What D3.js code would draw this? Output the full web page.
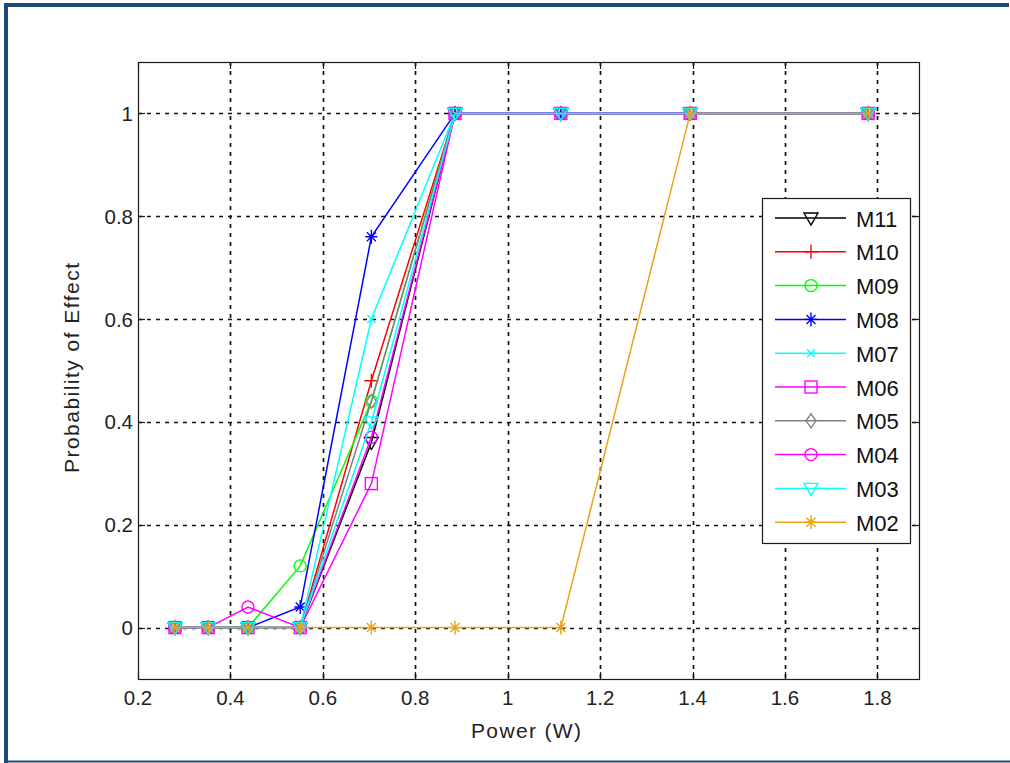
<!DOCTYPE html>
<html>
<head>
<meta charset="utf-8">
<script src="https://cdn.jsdelivr.net/npm/d3@7"></script>
<style>
  html, body { margin: 0; padding: 0; background: #fff; }
  svg { display: block; font-family: "Liberation Sans", Arial, sans-serif; }
</style>
</head>
<body>
<div id="chart"></div>
<script>
// power levels (W)
const power = [0.28, 0.352, 0.438, 0.551, 0.705, 0.886, 1.115, 1.395, 1.78];

const names = ["M11", "M10", "M09", "M08", "M07", "M06", "M05", "M04", "M03", "M02"];
const m11 = [0, 0, 0, 0, 0.36, 1, 1, 1, 1];
const m10 = [0, 0, 0, 0, 0.48, 1, 1, 1, 1];
const m09 = [0, 0, 0, 0.12, 0.44, 1, 1, 1, 1];
const m08 = [0, 0, 0, 0.04, 0.76, 1, 1, 1, 1];
const m07 = [0, 0, 0, 0, 0.6, 1, 1, 1, 1];
const m06 = [0, 0, 0, 0, 0.28, 1, 1, 1, 1];
const m05 = [0, 0, 0, 0, 0.44, 1, 1, 1, 1];
const m04 = [0, 0, 0.04, 0, 0.37, 1, 1, 1, 1];
const m03 = [0, 0, 0, 0, 0.4, 1, 1, 1, 1];
const m02 = [0, 0, 0, 0, 0, 0, 0, 1, 1];
const values = [m11, m10, m09, m08, m07, m06, m05, m04, m03, m02];

const colors = ["#000000", "#ff0000", "#00ff00", "#0000ff", "#00ffff", "#ff00ff", "#808080", "#ff00ff", "#00ffff", "#e8a317"];
const markers = ["tri", "plus", "circle", "star", "x", "square", "diamond", "circle", "tri", "star"];

const xTicks = [0.2, 0.4, 0.6, 0.8, 1, 1.2, 1.4, 1.6, 1.8];
const yTicks = [0, 0.2, 0.4, 0.6, 0.8, 1];

const width = 1010, height = 763;
const svg = d3.select("#chart").append("svg")
  .attr("width", width)
  .attr("height", height);

// outer frame
svg.append("rect").attr("x", 0).attr("y", 0).attr("width", width).attr("height", height).attr("fill", "#fff");
svg.append("line").attr("x1", 4).attr("x2", 1009).attr("y1", 5).attr("y2", 5)
  .attr("stroke", "#1f497d").attr("stroke-width", 4);
svg.append("line").attr("x1", 6).attr("x2", 6).attr("y1", 3).attr("y2", 763)
  .attr("stroke", "#1f497d").attr("stroke-width", 4);
svg.append("line").attr("x1", 4).attr("x2", 1010).attr("y1", 761.5).attr("y2", 761.5)
  .attr("stroke", "#1f497d").attr("stroke-width", 2);

const pLeft = 138, pRight = 919, pTop = 62, pBottom = 679;

const x = d3.scaleLinear().domain([0.2, 1.89]).range([pLeft, pRight]);
const y = d3.scaleLinear().domain([-0.1, 1.1]).range([pBottom, pTop]);

// grid
const grid = svg.append("g");
grid.selectAll(".gx").data(xTicks.slice(1)).enter().append("line")
  .attr("x1", d => Math.round(x(d)) + 0.5).attr("x2", d => Math.round(x(d)) + 0.5)
  .attr("y1", pTop).attr("y2", pBottom)
  .attr("stroke", "#111").attr("stroke-width", 1.7).attr("stroke-dasharray", "4,5");
grid.selectAll(".gy").data(yTicks).enter().append("line")
  .attr("y1", d => Math.round(y(d)) + 0.5).attr("y2", d => Math.round(y(d)) + 0.5)
  .attr("x1", pLeft).attr("x2", pRight)
  .attr("stroke", "#111").attr("stroke-width", 1.7).attr("stroke-dasharray", "4,5");

// axes box and ticks
const axes = svg.append("g").attr("stroke", "#1a1a1a").attr("stroke-width", 1.2);
axes.append("rect").attr("x", pLeft + 0.5).attr("y", pTop + 0.5)
  .attr("width", pRight - pLeft).attr("height", pBottom - pTop).attr("fill", "none");
xTicks.forEach(t => {
  const px = Math.round(x(t)) + 0.5;
  axes.append("line").attr("x1", px).attr("x2", px).attr("y1", pBottom).attr("y2", pBottom - 7);
  axes.append("line").attr("x1", px).attr("x2", px).attr("y1", pTop).attr("y2", pTop + 7);
});
yTicks.forEach(t => {
  const py = Math.round(y(t)) + 0.5;
  axes.append("line").attr("y1", py).attr("y2", py).attr("x1", pLeft).attr("x2", pLeft + 7);
  axes.append("line").attr("y1", py).attr("y2", py).attr("x1", pRight).attr("x2", pRight - 7);
});

svg.append("g").selectAll("text").data(xTicks).enter().append("text")
  .attr("x", d => x(d)).attr("y", 705)
  .attr("text-anchor", "middle").attr("font-size", 20.5).attr("fill", "#222")
  .text(d => d3.format("")(d));
svg.append("g").selectAll("text").data(yTicks).enter().append("text")
  .attr("x", 133).attr("y", d => y(d) + 7.5)
  .attr("text-anchor", "end").attr("font-size", 20.5).attr("fill", "#222")
  .text(d => d3.format("")(d));

svg.append("text").attr("x", 526).attr("y", 738)
  .attr("text-anchor", "middle").attr("font-size", 21).attr("fill", "#222")
  .attr("textLength", 110).attr("lengthAdjust", "spacing")
  .text("Power (W)");
svg.append("text").attr("transform", "translate(79,368) rotate(-90)")
  .attr("text-anchor", "middle").attr("font-size", 21).attr("fill", "#222")
  .attr("textLength", 210).attr("lengthAdjust", "spacing")
  .text("Probability of Effect");

// marker drawing
function drawMarker(g, type, color) {
  const s = g.append("g").attr("fill", "none").attr("stroke", color).attr("stroke-width", 1.4);
  switch (type) {
    case "tri":
      s.append("path").attr("d", "M-7,-5L7,-5L0,7Z");
      break;
    case "plus":
      s.append("path").attr("d", "M-7,0L7,0M0,-7L0,7");
      break;
    case "circle":
      s.append("circle").attr("r", 6);
      break;
    case "star":
      s.append("path").attr("d", "M-6,0L6,0M0,-7L0,7M-4.5,-4.5L4.5,4.5M-4.5,4.5L4.5,-4.5");
      break;
    case "x":
      s.append("path").attr("d", "M-4,-4L4,4M-4,4L4,-4");
      break;
    case "square":
      s.append("rect").attr("x", -6).attr("y", -6).attr("width", 12).attr("height", 12);
      break;
    case "diamond":
      s.append("path").attr("d", "M0,-7L5,0L0,7L-5,0Z");
      break;
  }
}

// series
const line = d3.line().x(d => x(d[0])).y(d => y(d[1]));
const plot = svg.append("g");
names.forEach((name, i) => {
  const pts = power.map((p, j) => [p, values[i][j]]);
  const g = plot.append("g");
  g.append("path").datum(pts).attr("d", line)
    .attr("fill", "none").attr("stroke", colors[i]).attr("stroke-width", 1.5);
  pts.forEach(p => {
    const mg = g.append("g").attr("transform", `translate(${x(p[0])},${y(p[1])})`);
    drawMarker(mg, markers[i], colors[i]);
  });
});

// legend
const lg = svg.append("g");
lg.append("rect").attr("x", 762.5).attr("y", 198.5).attr("width", 148).attr("height", 345)
  .attr("fill", "#fff").attr("stroke", "#1a1a1a").attr("stroke-width", 1.2);
names.forEach((name, i) => {
  const ly = 218 + i * 33.8;
  lg.append("line").attr("x1", 775).attr("x2", 846).attr("y1", ly).attr("y2", ly)
    .attr("stroke", colors[i]).attr("stroke-width", 1.5);
  const mg = lg.append("g").attr("transform", `translate(811,${ly})`);
  drawMarker(mg, markers[i], colors[i]);
  lg.append("text").attr("x", 856).attr("y", ly + 8.5)
    .attr("font-size", 22).attr("fill", "#111").text(name);
});
</script>
</body>
</html>
